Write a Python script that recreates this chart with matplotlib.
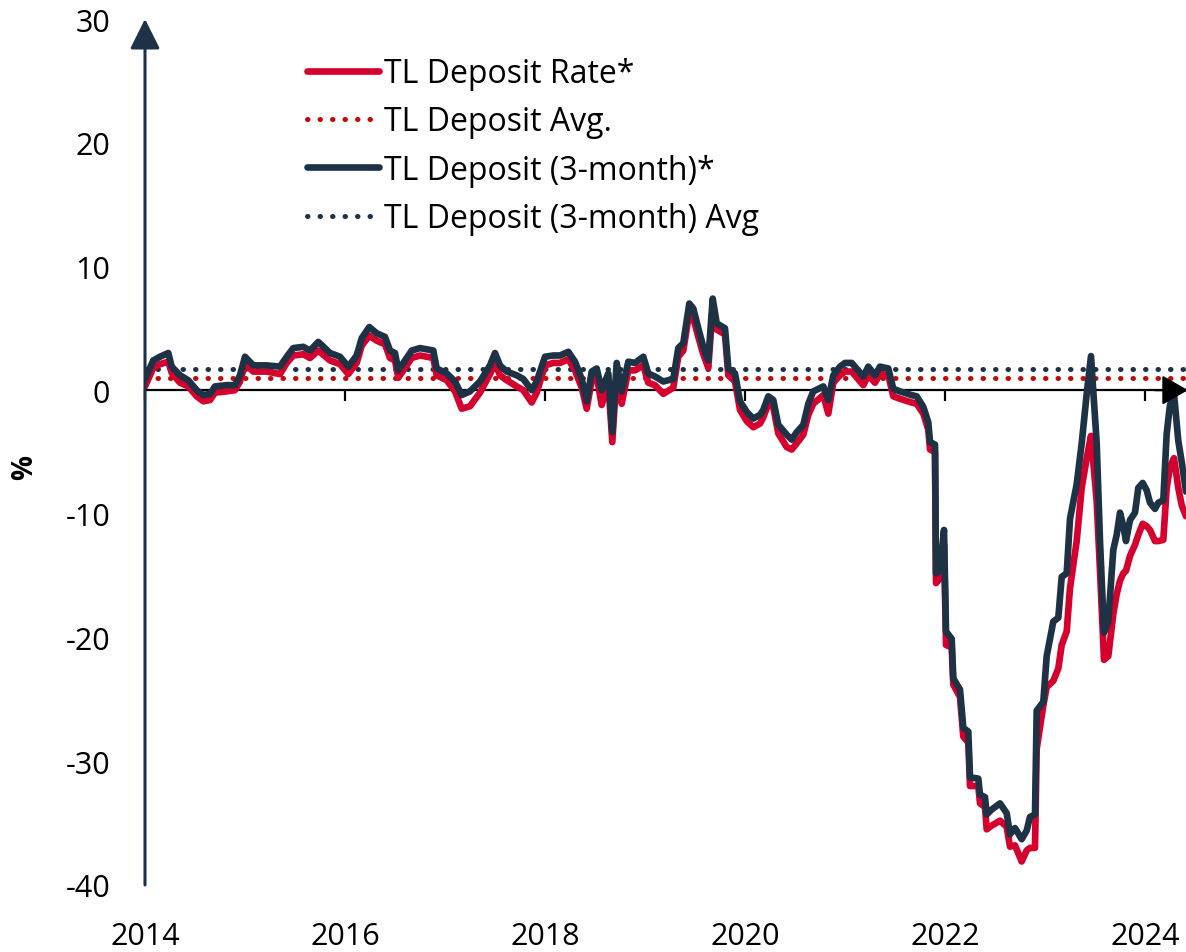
import matplotlib
matplotlib.use("Agg")
import matplotlib.pyplot as plt
import numpy as np

plt.rcParams['font.family'] = ['Open Sans', 'DejaVu Sans']

# dates as decimal years, values in %
dates = [
    2014.0, 2014.083, 2014.15, 2014.233, 2014.267, 2014.35, 2014.433, 2014.517, 2014.583, 2014.65,
    2014.70, 2014.817, 2014.90, 2014.95, 2015.0, 2015.083, 2015.217, 2015.35, 2015.417, 2015.483,
    2015.583, 2015.65, 2015.733, 2015.85, 2015.95, 2016.033, 2016.117, 2016.167, 2016.243, 2016.317,
    2016.40, 2016.45, 2016.50, 2016.533, 2016.60, 2016.667, 2016.75, 2016.883, 2016.917, 2017.017,
    2017.10, 2017.167, 2017.25, 2017.35, 2017.45, 2017.50, 2017.55, 2017.617, 2017.717, 2017.783,
    2017.867, 2017.917, 2018.0, 2018.083, 2018.15, 2018.233, 2018.30, 2018.367, 2018.417, 2018.467,
    2018.517, 2018.567, 2018.633, 2018.673, 2018.717, 2018.767, 2018.833, 2018.90, 2018.983, 2019.033,
    2019.10, 2019.183, 2019.283, 2019.333, 2019.383, 2019.443, 2019.483, 2019.533, 2019.583, 2019.633,
    2019.677, 2019.717, 2019.80, 2019.833, 2019.90, 2019.95, 2020.017, 2020.083, 2020.15, 2020.183,
    2020.233, 2020.283, 2020.333, 2020.417, 2020.467, 2020.517, 2020.583, 2020.633, 2020.683, 2020.783,
    2020.833, 2020.883, 2020.95, 2021.0, 2021.067, 2021.183, 2021.233, 2021.30, 2021.35, 2021.433,
    2021.483, 2021.55, 2021.667, 2021.717, 2021.783, 2021.833, 2021.85, 2021.90, 2021.91, 2021.95,
    2021.99, 2022.01, 2022.067, 2022.083, 2022.15, 2022.183, 2022.233, 2022.25, 2022.333, 2022.35,
    2022.40, 2022.417, 2022.467, 2022.55, 2022.617, 2022.65, 2022.70, 2022.767, 2022.817, 2022.85,
    2022.90, 2022.917, 2022.983, 2023.017, 2023.083, 2023.133, 2023.167, 2023.217, 2023.25, 2023.317,
    2023.367, 2023.417, 2023.46, 2023.517, 2023.55, 2023.59, 2023.633, 2023.683, 2023.717, 2023.75,
    2023.783, 2023.81, 2023.85, 2023.90, 2023.933, 2023.977, 2024.017, 2024.05, 2024.10, 2024.133,
    2024.183, 2024.217, 2024.25, 2024.29, 2024.333, 2024.367, 2024.41,
]

deposit_3m = [
    0.9, 2.4, 2.7, 3.0, 1.9, 1.2, 0.8, 0.0, -0.4, -0.3,
    0.3, 0.4, 0.4, 1.2, 2.7, 2.0, 2.0, 1.9, 2.7, 3.4,
    3.5, 3.2, 3.9, 3.0, 2.7, 1.9, 2.8, 4.2, 5.1, 4.6,
    4.3, 3.2, 3.0, 1.6, 2.4, 3.2, 3.4, 3.2, 1.75, 1.35,
    0.7, -0.4, -0.1, 0.7, 2.0, 3.0, 2.0, 1.5, 1.2, 0.9,
    0.0, 0.7, 2.7, 2.8, 2.8, 3.1, 2.3, 0.9, -0.9, 1.5,
    1.75, 0.0, 1.35, -3.4, 2.2, -0.1, 2.3, 2.2, 2.7, 1.35,
    1.1, 0.7, 0.9, 3.4, 3.8, 7.0, 6.6, 5.0, 3.5, 2.4,
    7.4, 5.4, 5.0, 1.75, 1.35, -0.9, -1.75, -2.3, -2.0, -1.6,
    -0.5, -0.8, -2.8, -3.6, -4.0, -3.4, -2.8, -1.1, -0.1, 0.3,
    -0.8, 1.2, 1.9, 2.2, 2.2, 1.1, 1.9, 1.2, 1.9, 1.75,
    0.1, -0.1, -0.4, -0.5, -1.35, -2.6, -4.2, -4.4, -14.8, -14.6,
    -11.3, -19.5, -20.1, -23.3, -24.2, -27.3, -27.6, -31.3, -31.4, -32.7,
    -32.9, -34.3, -33.9, -33.4, -34.2, -35.9, -35.4, -36.3, -35.6, -34.5,
    -34.3, -25.9, -25.2, -21.5, -18.7, -18.4, -15.1, -14.8, -10.4, -7.6,
    -4.3, -0.3, 2.75, -4.3, -12.2, -19.6, -18.7, -12.9, -11.7, -9.9,
    -11.0, -12.2, -10.5, -9.9, -7.9, -7.5, -8.1, -9.1, -9.6, -9.1,
    -8.9, -3.5, -1.2, -0.3, -4.1, -5.8, -8.2,
]

deposit_rate = [
    0.3, 1.8, 2.1, 2.3, 1.4, 0.6, 0.3, -0.5, -0.9, -0.8,
    -0.2, -0.1, 0.0, 0.7, 2.1, 1.5, 1.5, 1.3, 2.2, 2.8,
    2.9, 2.6, 3.2, 2.4, 2.1, 1.3, 2.2, 3.6, 4.4, 4.0,
    3.7, 2.6, 2.4, 1.0, 1.8, 2.6, 2.8, 2.6, 1.2, 0.8,
    -0.1, -1.5, -1.3, -0.2, 1.3, 2.2, 1.2, 0.8, 0.3, 0.0,
    -1.0, -0.2, 2.0, 2.2, 2.2, 2.5, 1.6, 0.2, -1.5, 0.8,
    1.1, -1.2, 0.6, -4.2, 1.4, -1.1, 1.6, 1.6, 2.0, 0.6,
    0.4, -0.3, 0.2, 2.7, 3.2, 6.3, 5.8, 4.3, 2.9, 1.8,
    6.8, 4.9, 4.5, 1.2, 0.7, -1.6, -2.5, -3.0, -2.7, -2.2,
    -1.1, -1.4, -3.5, -4.6, -4.8, -4.3, -3.6, -2.0, -1.1, -0.4,
    -1.9, 0.6, 1.2, 1.5, 1.5, 0.4, 1.2, 0.6, 1.3, 1.2,
    -0.5, -0.7, -1.0, -1.1, -1.9, -3.2, -4.8, -5.0, -15.6, -15.2,
    -12.5, -20.6, -20.8, -23.8, -24.8, -28.0, -28.5, -32.0, -32.0, -33.4,
    -33.7, -35.5, -35.2, -34.8, -35.3, -36.9, -36.8, -38.1, -37.2, -37.0,
    -37.0, -29.0, -25.5, -24.0, -23.5, -22.5, -20.6, -19.5, -16.0, -12.2,
    -7.9, -5.5, -3.7, -9.0, -14.6, -21.8, -21.5, -18.1, -16.5, -15.4,
    -14.8, -14.6, -13.4, -12.5, -11.7, -10.8, -11.0, -11.3, -12.2, -12.2,
    -12.1, -7.9, -6.2, -5.5, -7.9, -9.3, -10.2,
]

deposit_avg = 1.0
deposit_3m_avg = 1.7

year_ticks = [2014, 2016, 2018, 2020, 2022, 2024]
y_ticks = [-40, -30, -20, -10, 0, 10, 20, 30]

RED = '#D6002F'
RED_DOT = '#C00A0A'
NAVY = '#1E3246'

fig = plt.figure(figsize=(11.86, 9.53), dpi=100)
ax = fig.add_axes([145 / 1186, 67 / 953, 1 - 145 / 1186, 866 / 953])

dot = (0, (0.1, 2.4))
ax.axhline(deposit_avg, color=RED_DOT, lw=3.6, linestyle=dot, dash_capstyle='round',
           label='TL Deposit Avg.', zorder=2)
ax.axhline(deposit_3m_avg, color=NAVY, lw=3.6, linestyle=dot, dash_capstyle='round',
           label='TL Deposit (3-month) Avg', zorder=2)
ax.plot(dates, deposit_rate, color=RED, lw=4.8, solid_joinstyle='round',
        solid_capstyle='round', label='TL Deposit Rate*', zorder=3)
ax.plot(dates, deposit_3m, color=NAVY, lw=4.8, solid_joinstyle='round',
        solid_capstyle='round', label='TL Deposit (3-month)*', zorder=4)

ax.set_xlim(2014, 2024.41)
ax.set_ylim(-40, 30)

for s in ['top', 'right', 'left']:
    ax.spines[s].set_visible(False)
ax.spines['bottom'].set_position(('data', 0))
ax.spines['bottom'].set_color('black')
ax.spines['bottom'].set_linewidth(1.6)
ax.spines['bottom'].set_zorder(1)

ax.set_xticks(year_ticks)
ax.tick_params(axis='x', direction='out', length=8, width=1.6, color='black', labelbottom=False)
ax.set_yticks(y_ticks)
ax.set_yticklabels([str(v) for v in y_ticks])
ax.tick_params(axis='y', length=0, pad=25, labelsize=22)

# x tick labels sit below the plot, not on the zero line
for yr in year_ticks:
    ax.text(yr, -0.059, str(yr), transform=ax.get_xaxis_transform(),
            ha='center', va='center', fontsize=22)

# y axis with arrow head
ax.annotate('', xy=(2014, 30), xytext=(2014, -40),
            arrowprops=dict(arrowstyle='-|>,head_length=0.8,head_width=0.4', color=NAVY,
                            lw=2.2, mutation_scale=23, shrinkA=0, shrinkB=0),
            annotation_clip=False, zorder=6)
# x axis arrow head
ax.annotate('', xy=(2024.43, 0), xytext=(2024.1, 0),
            arrowprops=dict(arrowstyle='-|>,head_length=0.7,head_width=0.4', color='black',
                            lw=1.6, mutation_scale=23, shrinkA=0, shrinkB=0),
            annotation_clip=False, zorder=6)

fig.text(25 / 1186, 1 - 468 / 953, '%', rotation=90, ha='center', va='center',
         fontsize=20, fontweight='bold')

handles, labels = ax.get_legend_handles_labels()
order = [2, 0, 3, 1]
ax.legend([handles[i] for i in order], [labels[i] for i in order],
          loc='upper left', bbox_to_anchor=(307 / 1186, 1 - 58 / 953),
          bbox_transform=fig.transFigure, frameon=False, fontsize=23,
          handlelength=2.25, handletextpad=0.15, labelspacing=0.48, borderpad=0,
          borderaxespad=0)

fig.savefig('out.png', dpi=100)
